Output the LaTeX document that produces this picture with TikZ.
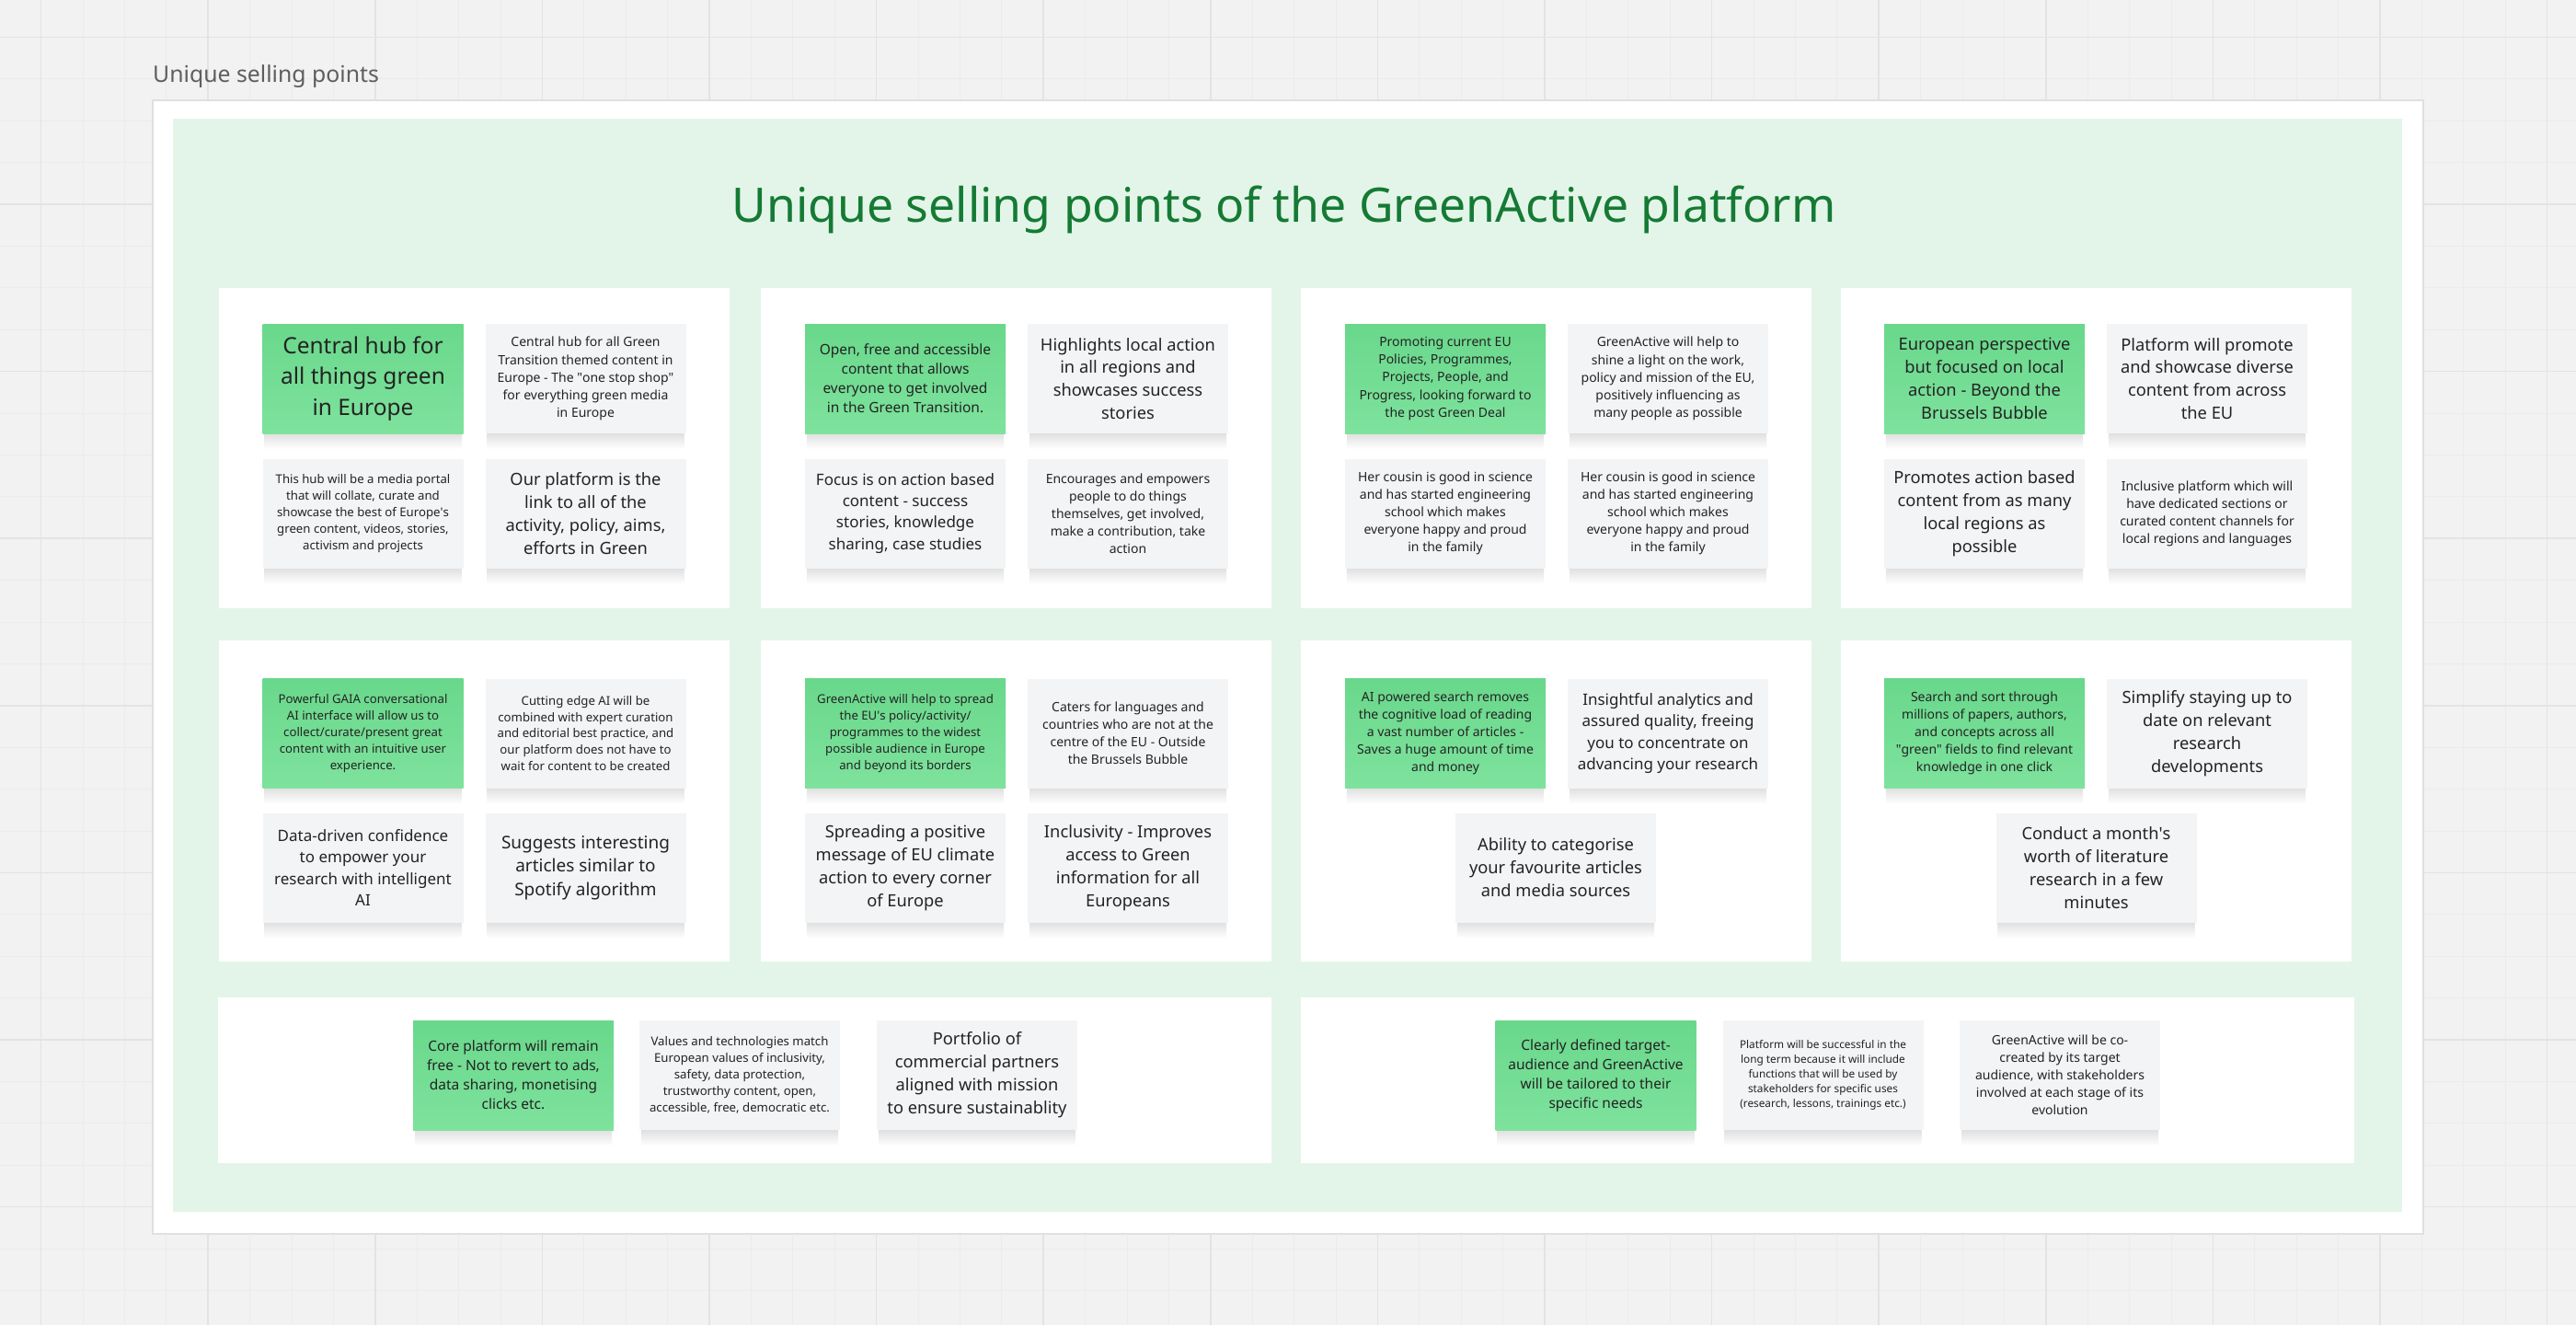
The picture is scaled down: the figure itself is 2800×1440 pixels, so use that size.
\documentclass[tikz,border=0pt]{standalone}
\usepackage{fontspec}
\setmainfont{Noto Sans}
\usepackage{tikz}
\usetikzlibrary{positioning}
\definecolor{pagegray}{HTML}{F2F2F2}
\definecolor{gridminor}{HTML}{EBEBEB}
\definecolor{gridmajor}{HTML}{E3E3E3}
\definecolor{framegray}{HTML}{E0E0E0}
\definecolor{areagreen}{HTML}{E3F5E9}
\definecolor{titlegreen}{HTML}{157A34}
\definecolor{notegreen}{HTML}{69D88B}
\definecolor{notegreenlt}{HTML}{7EE29D}
\definecolor{notegray}{HTML}{F3F4F5}
\definecolor{notetext}{HTML}{232323}
\definecolor{labelgray}{HTML}{5E5E5E}

\begin{document}
\begin{tikzpicture}[x=1pt, y=-1pt,
  frame/.style={rectangle, fill=white, draw=framegray, line width=1.5pt,
                minimum width=2468pt, minimum height=1232pt, inner sep=0pt},
  area/.style={rectangle, fill=areagreen, minimum width=2423.5pt,
               minimum height=1188pt, inner sep=0pt},
  panel/.style={rectangle, fill=white, minimum width=555pt,
                minimum height=348.5pt, inner sep=0pt},
  widepanel/.style={rectangle, fill=white, minimum width=1145pt,
                    minimum height=180pt, inner sep=0pt},
  softshade/.style={append after command={\pgfextra{
      \shade[top color=black!12, bottom color=white]
        ([xshift=2pt]\tikzlastnode.south west)
        rectangle ([xshift=-2pt, yshift=-17pt]\tikzlastnode.south east);}}},
  note/.style={rectangle, minimum width=218pt, minimum height=119pt,
               inner sep=0pt, align=center, text=notetext, softshade},
  gnote/.style={note, top color=notegreen, bottom color=notegreenlt},
  wnote/.style={note, fill=notegray},
  fsXL/.style={font=\fontsize{24.5}{33.3}\selectfont},
  fsL/.style={font=\fontsize{18.3}{24.9}\selectfont},
  fsM/.style={font=\fontsize{17}{23.1}\selectfont},
  fsMS/.style={font=\fontsize{15.5}{21}\selectfont},
  fsS/.style={font=\fontsize{14}{19.1}\selectfont},
  fsXS/.style={font=\fontsize{13.2}{17.9}\selectfont},
  fsXXS/.style={font=\fontsize{11.8}{16}\selectfont},
]
  \useasboundingbox (0,0) rectangle (2800,1440);
  \fill[pagegray] (0,0) rectangle (2800,1440);

  %% ── Canvas grid ─────────────────────────────────────────────────────────
  \foreach \i in {0,...,60}
    \draw[gridminor, line width=1pt] ({44.6+45.4*\i},0) -- ({44.6+45.4*\i},1440);
  \foreach \i in {0,...,30}
    \draw[gridminor, line width=1pt] (0,{40.4+45.4*\i}) -- (2800,{40.4+45.4*\i});
  \foreach \i in {0,...,15}
    \draw[gridmajor, line width=1.5pt] ({44.6+181.6*\i},0) -- ({44.6+181.6*\i},1440);
  \foreach \i in {0,...,7}
    \draw[gridmajor, line width=1.5pt] (0,{40.4+181.6*\i}) -- (2800,{40.4+181.6*\i});

  %% ── Frame, label and green area ─────────────────────────────────────────
  \node[anchor=base west, text=labelgray, inner sep=0pt,
        font=\fontsize{24.8}{28}\selectfont] (lbl) at (166,89) {Unique selling points};
  \node[frame] (frm)  at (1400,725) {};
  \node[area]  (zone) at (1399.25,723) {};
  \node[anchor=base, text=titlegreen, inner sep=0pt,
        font=\fontsize{51.7}{60}\selectfont] (ttl) at (1395.5,241.7)
        {Unique selling points of the GreenActive platform};

  %% ── White panels ────────────────────────────────────────────────────────
  \node[panel] (pan1) at (515.25,486.75) {};
  \node[panel] (pan2) at (1104.5,486.75) {};
  \node[panel] (pan3) at (1691,486.75)   {};
  \node[panel] (pan4) at (2278.5,486.75) {};
  \node[panel] (pan5) at (515.25,870.5)  {};
  \node[panel] (pan6) at (1104.5,870.5)  {};
  \node[panel] (pan7) at (1691,870.5)    {};
  \node[panel] (pan8) at (2278.5,870.5)  {};
  \node[widepanel] (pan9)  at (809.75,1174) {};
  \node[widepanel] (pan10) at (1986.5,1174) {};

  %% ── Panel 1 ─────────────────────────────────────────────────────────────
  \node[gnote, fsXL] (p1a) at (394.5,411.5) {Central hub for\\all things green\\in Europe};
  \node[wnote, fsS]  (p1b) at (636.5,411.5) {Central hub for all Green\\Transition themed content in\\Europe - The \textquotedbl one stop shop\textquotedbl\\for everything green media\\in Europe};
  \node[wnote, fsXS] (p1c) at (394.5,558)   {This hub will be a media portal\\that will collate, curate and\\showcase the best of Europe\textquotesingle s\\green content, videos, stories,\\activism and projects};
  \node[wnote, fsL]  (p1d) at (636.5,558)   {Our platform is the\\link to all of the\\activity, policy, aims,\\efforts in Green};

  %% ── Panel 2 ─────────────────────────────────────────────────────────────
  \node[gnote, fsMS] (p2a) at (984,411.5)  {Open, free and accessible\\content that allows\\everyone to get involved\\in the Green Transition.};
  \node[wnote, fsL]  (p2b) at (1226,411.5) {Highlights local action\\in all regions and\\showcases success\\stories};
  \node[wnote, fsM]  (p2c) at (984,558)    {Focus is on action based\\content - success\\stories, knowledge\\sharing, case studies};
  \node[wnote, fsS]  (p2d) at (1226,558)   {Encourages and empowers\\people to do things\\themselves, get involved,\\make a contribution, take\\action};

  %% ── Panel 3 ─────────────────────────────────────────────────────────────
  \node[gnote, fsS] (p3a) at (1571,411.5) {Promoting current EU\\Policies, Programmes,\\Projects, People, and\\Progress, looking forward to\\the post Green Deal};
  \node[wnote, fsS] (p3b) at (1813,411.5) {GreenActive will help to\\shine a light on the work,\\policy and mission of the EU,\\positively influencing as\\many people as possible};
  \node[wnote, fsS] (p3c) at (1571,558)   {Her cousin is good in science\\and has started engineering\\school which makes\\everyone happy and proud\\in the family};
  \node[wnote, fsS] (p3d) at (1813,558)   {Her cousin is good in science\\and has started engineering\\school which makes\\everyone happy and proud\\in the family};

  %% ── Panel 4 ─────────────────────────────────────────────────────────────
  \node[gnote, fsL] (p4a) at (2157,411.5) {European perspective\\but focused on local\\action - Beyond the\\Brussels Bubble};
  \node[wnote, fsL] (p4b) at (2399,411.5) {Platform will promote\\and showcase diverse\\content from across\\the EU};
  \node[wnote, fsL] (p4c) at (2157,558)   {Promotes action based\\content from as many\\local regions as\\possible};
  \node[wnote, fsS] (p4d) at (2399,558)   {Inclusive platform which will\\have dedicated sections or\\curated content channels for\\local regions and languages};

  %% ── Panel 5 ─────────────────────────────────────────────────────────────
  \node[gnote, fsXS] (p5a) at (394.5,797) {Powerful GAIA conversational\\AI interface will allow us to\\collect/curate/present great\\content with an intuitive user\\experience.};
  \node[wnote, fsXS] (p5b) at (636.5,797) {Cutting edge AI will be\\combined with expert curation\\and editorial best practice, and\\our platform does not have to\\wait for content to be created};
  \node[wnote, fsM]  (p5c) at (394.5,943) {Data-driven confidence\\to empower your\\research with intelligent\\AI};
  \node[wnote, font=\fontsize{19}{25.7}\selectfont] (p5d) at (636.5,943) {Suggests interesting\\articles similar to\\Spotify algorithm};

  %% ── Panel 6 ─────────────────────────────────────────────────────────────
  \node[gnote, fsXS] (p6a) at (984,797)  {GreenActive will help to spread\\the EU\textquotesingle s policy/activity/\\programmes to the widest\\possible audience in Europe\\and beyond its borders};
  \node[wnote, fsS]  (p6b) at (1226,797) {Caters for languages and\\countries who are not at the\\centre of the EU - Outside\\the Brussels Bubble};
  \node[wnote, fsL]  (p6c) at (984,943)  {Spreading a positive\\message of EU climate\\action to every corner\\of Europe};
  \node[wnote, fsL]  (p6d) at (1226,943) {Inclusivity - Improves\\access to Green\\information for all\\Europeans};

  %% ── Panel 7 ─────────────────────────────────────────────────────────────
  \node[gnote, fsS] (p7a) at (1571,797) {AI powered search removes\\the cognitive load of reading\\a vast number of articles -\\Saves a huge amount of time\\and money};
  \node[wnote, fsM] (p7b) at (1813,797) {Insightful analytics and\\assured quality, freeing\\you to concentrate on\\advancing your research};
  \node[wnote, fsL] (p7c) at (1691,943) {Ability to categorise\\your favourite articles\\and media sources};

  %% ── Panel 8 ─────────────────────────────────────────────────────────────
  \node[gnote, fsS] (p8a) at (2157,797)   {Search and sort through\\millions of papers, authors,\\and concepts across all\\\textquotedbl green\textquotedbl{} fields to find relevant\\knowledge in one click};
  \node[wnote, fsL] (p8b) at (2399,797)   {Simplify staying up to\\date on relevant\\research\\developments};
  \node[wnote, fsL] (p8c) at (2278.5,943) {Conduct a month\textquotesingle s\\worth of literature\\research in a few\\minutes};

  %% ── Bottom panels ───────────────────────────────────────────────────────
  \node[gnote, fsMS] (p9a) at (558,1168.5)  {Core platform will remain\\free - Not to revert to ads,\\data sharing, monetising\\clicks etc.};
  \node[wnote, fsXS] (p9b) at (804,1168.5)  {Values and technologies match\\European values of inclusivity,\\safety, data protection,\\trustworthy content, open,\\accessible, free, democratic etc.};
  \node[wnote, fsL]  (p9c) at (1062,1168.5) {Portfolio of\\commercial partners\\aligned with mission\\to ensure sustainablity};

  \node[gnote, fsMS]  (p10a) at (1734.5,1168.5) {Clearly defined target-\\audience and GreenActive\\will be tailored to their\\specific needs};
  \node[wnote, fsXXS] (p10b) at (1981.5,1168.5) {Platform will be successful in the\\long term because it will include\\functions that will be used by\\stakeholders for specific uses\\(research, lessons, trainings etc.)};
  \node[wnote, fsS]   (p10c) at (2239,1168.5)   {GreenActive will be co-\\created by its target\\audience, with stakeholders\\involved at each stage of its\\evolution};

\end{tikzpicture}
\end{document}
